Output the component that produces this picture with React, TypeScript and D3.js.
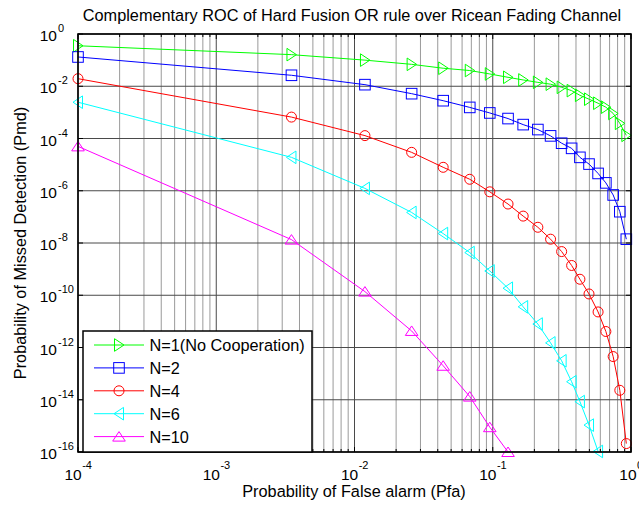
import React from "react";
import * as d3 from "d3";

const pfa = [1e-4, 3.5e-3, 1.19e-2, 2.59e-2, 4.38e-2, 6.82e-2, 9.52e-2, 0.129, 0.166, 0.212, 0.262, 0.315, 0.372, 0.427, 0.497, 0.578, 0.658, 0.743, 0.83, 0.925];

const pmdN1 = [3.55e-1, 1.62e-1, 1.0e-1, 6.9e-2, 4.9e-2, 4.0e-2, 2.95e-2, 2.2e-2, 1.74e-2, 1.41e-2, 1.2e-2, 9.1e-3, 6.8e-3, 4.5e-3, 3.2e-3, 2.24e-3, 1.58e-3, 9.1e-4, 3.8e-4, 1.32e-4];
const pmdN2 = [1.32e-1, 2.63e-2, 1.15e-2, 5.2e-3, 2.8e-3, 1.55e-3, 9.5e-4, 5.8e-4, 3.4e-4, 2.2e-4, 1.26e-4, 6.6e-5, 4.2e-5, 1.9e-5, 1.05e-5, 4.6e-6, 2.0e-6, 6.9e-7, 1.58e-7, 1.4e-8];
const pmdN4 = [1.95e-2, 6.6e-4, 1.29e-4, 2.95e-5, 7.9e-6, 2.75e-6, 9.1e-7, 3.1e-7, 1.07e-7, 4.0e-8, 1.4e-8, 4.7e-9, 1.38e-9, 4.1e-10, 1.12e-10, 2.3e-11, 4.1e-12, 4.5e-13, 2.3e-14, 2.1e-16];
const pmdN6 = [2.45e-3, 1.9e-5, 1.23e-6, 1.48e-7, 2.3e-8, 4.3e-9, 8.5e-10, 1.86e-10, 3.6e-11, 7.9e-12, 1.5e-12, 3.1e-13, 4.9e-14, 8.5e-15, 1.07e-15, 1.05e-16];
const pmdN10 = [5.0e-5, 1.35e-8, 1.38e-10, 4.3e-12, 2.0e-13, 1.32e-14, 8.9e-16, 1.0e-16];

const seriesNames = ["N=1(No Cooperation)", "N=2", "N=4", "N=6", "N=10"];
const seriesColors = ["#00ff00", "#0000ff", "#ff0000", "#00ffff", "#ff00ff"];
const seriesMarkers = ["triRight", "square", "circle", "triLeft", "triUp"];
const seriesValues = [pmdN1, pmdN2, pmdN4, pmdN6, pmdN10];

const xTickExps = [-4, -3, -2, -1, 0];
const yTickExps = [0, -2, -4, -6, -8, -10, -12, -14, -16];

const titleText = "Complementary ROC of Hard Fusion OR rule over Ricean Fading Channel";
const xLabelText = "Probability of False alarm (Pfa)";
const yLabelText = "Probability of Missed Detection (Pmd)";

const W = 639, H = 508;
const L = 78, R = 631, T = 34, B = 452;
const FONT = "'Liberation Sans', Arial, sans-serif";

function Marker({ kind, x, y, color }: { kind: string; x: number; y: number; color: string }) {
  const common = { fill: "none", stroke: color, strokeWidth: 1 };
  if (kind === "circle") return <circle cx={x} cy={y} r={5} {...common} />;
  if (kind === "square") return <rect x={x - 5.3} y={y - 5.3} width={10.6} height={10.6} {...common} />;
  let pts: number[][] = [];
  if (kind === "triUp") pts = [[0, -5], [-6.3, 4.5], [6.3, 4.5]];
  if (kind === "triRight") pts = [[5, 0], [-4.5, -6.3], [-4.5, 6.3]];
  if (kind === "triLeft") pts = [[-5, 0], [4.5, -6.3], [4.5, 6.3]];
  return <polygon points={pts.map((p) => `${x + p[0]},${y + p[1]}`).join(" ")} {...common} />;
}

export default function App() {
  const x = d3.scaleLog().domain([1e-4, 1]).range([L, R]);
  const y = d3.scaleLog().domain([1e-16, 1]).range([B, T]);

  const minorX: number[] = [];
  for (let e = -4; e < 0; e++) for (let k = 2; k <= 9; k++) minorX.push(k * Math.pow(10, e));
  const majorX = xTickExps.map((e) => Math.pow(10, e));
  const majorY = yTickExps.map((e) => Math.pow(10, e));

  const line = d3.line<[number, number]>().x((d) => x(d[0])).y((d) => y(d[1]));

  const legendX = 83, legendY = 331, legendW = 229, legendH = 121;

  return (
    <svg width={W} height={H} style={{ position: "absolute", left: 0, top: 0, background: "#fff" }} fontFamily={FONT}>
      <rect x={0} y={0} width={W} height={H} fill="#fff" />
      {/* grid */}
      {minorX.map((v, i) => (
        <line key={"mx" + i} x1={x(v)} x2={x(v)} y1={T} y2={B} stroke="#9a9a9a" strokeWidth={1} />
      ))}
      {majorX.map((v, i) => (
        <line key={"Mx" + i} x1={x(v)} x2={x(v)} y1={T} y2={B} stroke="#4a4a4a" strokeWidth={1} />
      ))}
      {majorY.map((v, i) => (
        <line key={"My" + i} x1={L} x2={R} y1={y(v)} y2={y(v)} stroke="#4a4a4a" strokeWidth={1} />
      ))}
      {/* ticks */}
      {minorX.map((v, i) => (
        <g key={"tmx" + i} stroke="#000" strokeWidth={1}>
          <line x1={x(v)} x2={x(v)} y1={B} y2={B - 3} />
          <line x1={x(v)} x2={x(v)} y1={T} y2={T + 3} />
        </g>
      ))}
      {majorX.map((v, i) => (
        <g key={"tMx" + i} stroke="#000" strokeWidth={1}>
          <line x1={x(v)} x2={x(v)} y1={B} y2={B - 5} />
          <line x1={x(v)} x2={x(v)} y1={T} y2={T + 5} />
        </g>
      ))}
      {majorY.map((v, i) => (
        <g key={"tMy" + i} stroke="#000" strokeWidth={1}>
          <line x1={L} x2={L + 5} y1={y(v)} y2={y(v)} />
          <line x1={R} x2={R - 5} y1={y(v)} y2={y(v)} />
        </g>
      ))}
      {/* series */}
      {seriesValues.map((vals, si) => {
        const pts: [number, number][] = vals.map((v, i) => [pfa[i], v]);
        return (
          <g key={"s" + si}>
            <path d={line(pts) || ""} fill="none" stroke={seriesColors[si]} strokeWidth={1} />
            {pts.map((p, i) => (
              <Marker key={i} kind={seriesMarkers[si]} x={x(p[0])} y={y(p[1])} color={seriesColors[si]} />
            ))}
          </g>
        );
      })}
      {/* axes box */}
      <rect x={L} y={T} width={R - L} height={B - T} fill="none" stroke="#000" strokeWidth={1.6} />
      {/* y tick labels */}
      {yTickExps.map((e, i) => (
        <g key={"yl" + i}>
          <text x={57} y={y(Math.pow(10, e)) + 7} fontSize={15.5} textAnchor="end" fill="#000">10</text>
          <text x={58} y={y(Math.pow(10, e)) - 2} fontSize={11} textAnchor="start" fill="#000">{e === 0 ? "0" : String(e)}</text>
        </g>
      ))}
      {/* x tick labels */}
      {xTickExps.map((e, i) => {
        const expStr = e === 0 ? "0" : String(e);
        const w10 = 17.2;
        const wExp = expStr.length === 1 ? 6.1 : 9.8;
        const start = x(Math.pow(10, e)) - (w10 + wExp) / 2;
        return (
          <g key={"xl" + i}>
            <text x={start} y={480} fontSize={15.5} fill="#000">10</text>
            <text x={start + w10 + 0.5} y={469} fontSize={11} fill="#000">{expStr}</text>
          </g>
        );
      })}
      {/* title & labels */}
      <text x={352} y={21} fontSize={16.3} textAnchor="middle" fill="#000">{titleText}</text>
      <text x={354} y={497} fontSize={16.3} textAnchor="middle" fill="#000">{xLabelText}</text>
      <text transform={`translate(26,243) rotate(-90)`} fontSize={16.3} textAnchor="middle" fill="#000">{yLabelText}</text>
      {/* legend */}
      <rect x={legendX} y={legendY} width={legendW} height={legendH} fill="#fff" stroke="#000" strokeWidth={1.5} />
      {seriesNames.map((name, i) => {
        const ly = 345 + i * 22.9;
        return (
          <g key={"lg" + i}>
            <line x1={94} x2={144} y1={ly} y2={ly} stroke={seriesColors[i]} strokeWidth={1} />
            <Marker kind={seriesMarkers[i]} x={119} y={ly} color={seriesColors[i]} />
            <text x={149.5} y={ly + 6} fontSize={16.3} fill="#000">{name}</text>
          </g>
        );
      })}
    </svg>
  );
}
